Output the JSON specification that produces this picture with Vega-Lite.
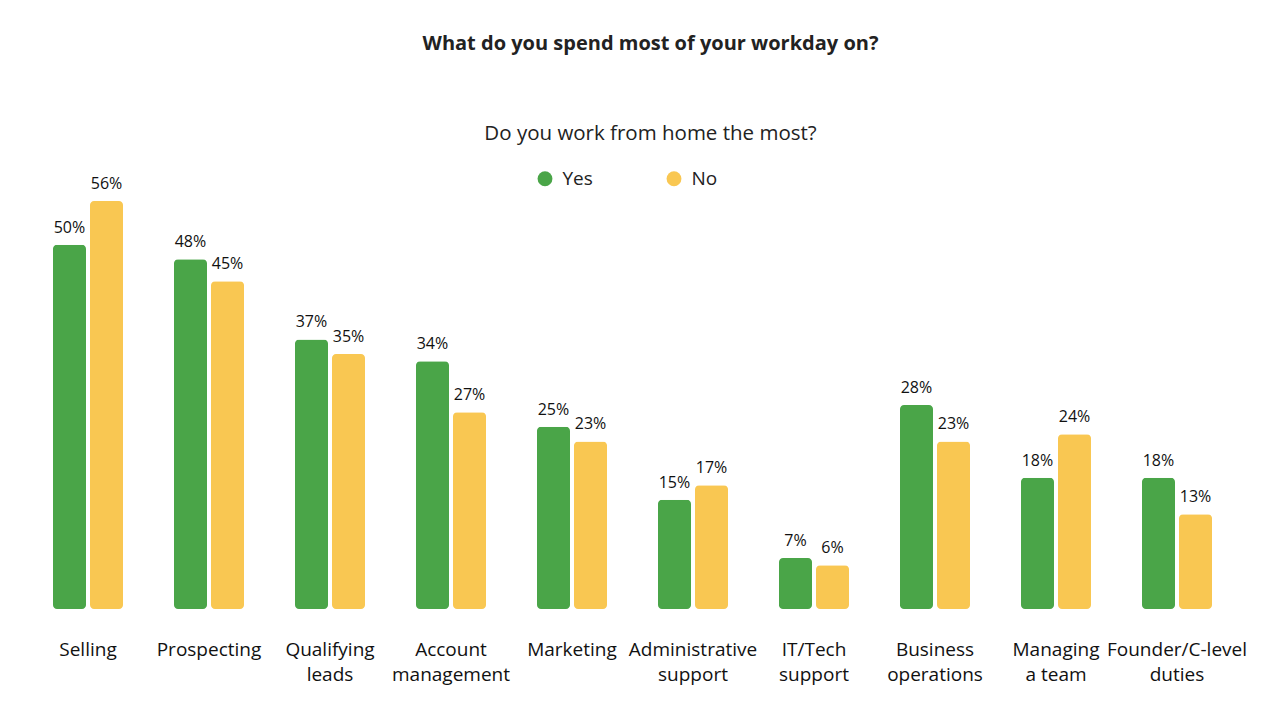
{
  "$schema": "https://vega.github.io/schema/vega-lite/v6.json",
  "width": 1210,
  "height": 408,
  "autosize": {"type": "none"},
  "padding": {"left": 27.5, "top": 201, "right": 42.5, "bottom": 109},
  "background": "white",
  "title": {
    "text": "What do you spend most of your workday on?",
    "subtitle": "Do you work from home the most?",
    "anchor": "middle",
    "dx": 18,
    "offset": 25,
    "font": "Open Sans",
    "fontSize": 20,
    "fontWeight": "bold",
    "color": "#222222",
    "subtitleFont": "Open Sans",
    "subtitleFontSize": 20.5,
    "subtitleColor": "#222222",
    "subtitlePadding": 70
  },
  "config": {
    "view": {"stroke": null},
    "font": "Open Sans"
  },
  "data": {
    "values": [
      {"activity": "Selling", "answer": "Yes", "pct": 0.50},
      {"activity": "Selling", "answer": "No", "pct": 0.56},
      {"activity": "Prospecting", "answer": "Yes", "pct": 0.48},
      {"activity": "Prospecting", "answer": "No", "pct": 0.45},
      {"activity": "Qualifying|leads", "answer": "Yes", "pct": 0.37},
      {"activity": "Qualifying|leads", "answer": "No", "pct": 0.35},
      {"activity": "Account|management", "answer": "Yes", "pct": 0.34},
      {"activity": "Account|management", "answer": "No", "pct": 0.27},
      {"activity": "Marketing", "answer": "Yes", "pct": 0.25},
      {"activity": "Marketing", "answer": "No", "pct": 0.23},
      {"activity": "Administrative|support", "answer": "Yes", "pct": 0.15},
      {"activity": "Administrative|support", "answer": "No", "pct": 0.17},
      {"activity": "IT/Tech|support", "answer": "Yes", "pct": 0.07},
      {"activity": "IT/Tech|support", "answer": "No", "pct": 0.06},
      {"activity": "Business|operations", "answer": "Yes", "pct": 0.28},
      {"activity": "Business|operations", "answer": "No", "pct": 0.23},
      {"activity": "Managing|a team", "answer": "Yes", "pct": 0.18},
      {"activity": "Managing|a team", "answer": "No", "pct": 0.24},
      {"activity": "Founder/C-level|duties", "answer": "Yes", "pct": 0.18},
      {"activity": "Founder/C-level|duties", "answer": "No", "pct": 0.13}
    ]
  },
  "encoding": {
    "x": {
      "field": "activity",
      "type": "nominal",
      "sort": null,
      "scale": {"paddingInner": 0.421, "paddingOuter": 0.2105},
      "axis": {
        "title": null,
        "domain": false,
        "ticks": false,
        "labelAngle": 0,
        "labelPadding": 31,
        "labelFont": "Open Sans",
        "labelFontSize": 19,
        "labelColor": "#111111",
        "labelLineHeight": 25,
        "labelExpr": "split(datum.label, '|')"
      }
    },
    "xOffset": {
      "field": "answer",
      "type": "nominal",
      "sort": ["Yes", "No"],
      "scale": {"paddingInner": 0.108, "paddingOuter": 0}
    },
    "y": {
      "field": "pct",
      "type": "quantitative",
      "scale": {"domain": [0, 0.56], "nice": false},
      "axis": null
    }
  },
  "layer": [
    {
      "mark": {"type": "bar", "cornerRadius": 4},
      "encoding": {
        "color": {
          "field": "answer",
          "type": "nominal",
          "sort": ["Yes", "No"],
          "scale": {"domain": ["Yes", "No"], "range": ["#4aa548", "#f9c752"]},
          "legend": {
            "orient": "none",
            "legendX": 508,
            "legendY": -32,
            "direction": "horizontal",
            "title": null,
            "symbolType": "circle",
            "symbolSize": 220,
            "symbolStrokeWidth": 0,
            "labelFont": "Open Sans",
            "labelFontSize": 19,
            "labelColor": "#222222",
            "labelOffset": 8,
            "columnPadding": 71
          }
        }
      }
    },
    {
      "mark": {"type": "text", "baseline": "bottom", "dy": -9, "fontSize": 16, "font": "Open Sans", "color": "#111111"},
      "encoding": {
        "text": {"field": "pct", "type": "quantitative", "format": ".0%"},
        "detail": {"field": "answer"}
      }
    }
  ]
}
